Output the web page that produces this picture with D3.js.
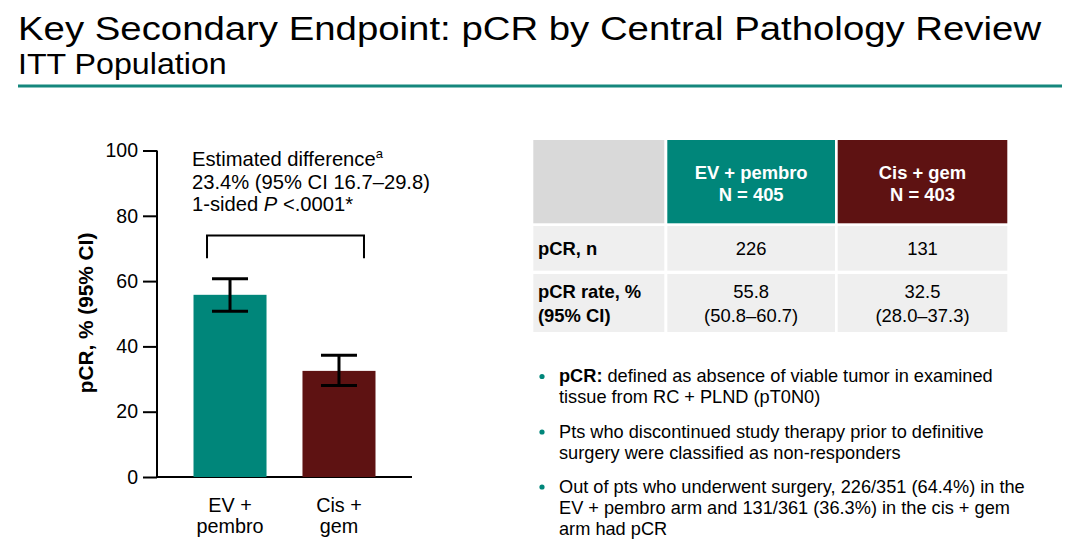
<!DOCTYPE html>
<html><head><meta charset="utf-8">
<script src="https://cdn.jsdelivr.net/npm/d3@7"></script>
<style>
html,body{margin:0;padding:0;background:#fff;}
svg{display:block;font-family:"Liberation Sans",Arial,Helvetica,sans-serif;}
</style></head>
<body><svg id="c" width="1080" height="554"></svg>
<script>
// ---- data ----
const categories = ["EV + pembro", "Cis + gem"];
const axisLabels = [["EV +", "pembro"], ["Cis +", "gem"]];
const pcrRate = [55.8, 32.5];
const ciLow = [50.8, 28.0];
const ciHigh = [60.7, 37.3];
const armN = [405, 403];
const pcrN = [226, 131];
const yTicks = [0, 20, 40, 60, 80, 100];
const barColors = ["#00867A", "#5E1212"];
const annotationLines = ["Estimated difference", "23.4% (95% CI 16.7\u201329.8)", "1-sided "];
const bullets = [
  [[{t:"pCR:", b:true}, {t:" defined as absence of viable tumor in examined"}], [{t:"tissue from RC + PLND (pT0N0)"}]],
  [[{t:"Pts who discontinued study therapy prior to definitive"}], [{t:"surgery were classified as non-responders"}]],
  [[{t:"Out of pts who underwent surgery, 226/351 (64.4%) in the"}], [{t:"EV + pembro arm and 131/361 (36.3%) in the cis + gem"}], [{t:"arm had pCR"}]]
];

const svg = d3.select("#c");
const teal = "#00867A";

// ---- title ----
svg.append("text").attr("transform","translate(18,40) scale(1.128,1)")
  .attr("font-size",34).attr("fill","#000").text("Key Secondary Endpoint: pCR by Central Pathology Review");
svg.append("text").attr("transform","translate(18,74) scale(1.11,1)")
  .attr("font-size",29).attr("fill","#000").text("ITT Population");
svg.append("rect").attr("x",18).attr("y",84.5).attr("width",1044).attr("height",3).attr("fill","#15877d");

// ---- chart ----
const y = d3.scaleLinear().domain([0,100]).range([477,150.5]);
const x = d3.scaleBand().domain(categories).range([157,412]).paddingInner(0.33).paddingOuter(0.335);

const yAxis = svg.append("g").attr("transform","translate(157,0)")
  .call(d3.axisLeft(y).tickValues(yTicks).tickSize(14).tickPadding(5));
yAxis.select(".domain").attr("stroke","#000").attr("stroke-width",2).attr("d","M0,"+y(100)+"V"+y(0));
yAxis.selectAll(".tick line").attr("stroke","#000").attr("stroke-width",2);
yAxis.selectAll(".tick text").attr("font-size",19.5).attr("fill","#000").attr("font-family","Liberation Sans, Arial, sans-serif");

const xAxis = svg.append("g").attr("transform","translate(0,"+y(0)+")")
  .call(d3.axisBottom(x).tickSize(0).tickFormat(""));
xAxis.select(".domain").attr("stroke","#000").attr("stroke-width",2).attr("d","M157,0H412");

categories.forEach((c,i)=>{
  const t = svg.append("text").attr("text-anchor","middle").attr("font-size",19.8).attr("fill","#000");
  axisLabels[i].forEach((l,j)=>{
    t.append("tspan").attr("x",x(c)+x.bandwidth()/2).attr("y",512+j*21).text(l);
  });
});

svg.append("text").attr("transform","translate(93,313) rotate(-90)").attr("text-anchor","middle")
  .attr("font-size",20.8).attr("font-weight","bold").attr("fill","#000").text("pCR, % (95% CI)");

svg.selectAll("rect.bar").data(categories).enter().append("rect").attr("class","bar")
  .attr("x",d=>x(d)).attr("width",x.bandwidth())
  .attr("y",(d,i)=>y(pcrRate[i])).attr("height",(d,i)=>y(0)-y(pcrRate[i]))
  .attr("fill",(d,i)=>barColors[i]);

const capW = 36;
categories.forEach((c,i)=>{
  const cx = x(c)+x.bandwidth()/2;
  const g = svg.append("g").attr("stroke","#000").attr("stroke-width",3);
  g.append("line").attr("x1",cx).attr("x2",cx).attr("y1",y(ciLow[i])).attr("y2",y(ciHigh[i]));
  g.append("line").attr("x1",cx-capW/2).attr("x2",cx+capW/2).attr("y1",y(ciLow[i])).attr("y2",y(ciLow[i]));
  g.append("line").attr("x1",cx-capW/2).attr("x2",cx+capW/2).attr("y1",y(ciHigh[i])).attr("y2",y(ciHigh[i]));
});

// bracket
const c1 = x(categories[0])+x.bandwidth()/2, c2 = x(categories[1])+x.bandwidth()/2;
svg.append("path").attr("fill","none").attr("stroke","#000").attr("stroke-width",2)
  .attr("d",`M${c1-23},${y(67)}V${y(74)}H${c2+25}V${y(67)}`);

// annotation
const ax = 192;
const aFs = 20.2;
const a1 = svg.append("text").attr("x",ax).attr("y",166).attr("font-size",aFs).attr("fill","#000");
a1.append("tspan").text(annotationLines[0]);
a1.append("tspan").attr("font-size",13).attr("dy",-8).text("a");
svg.append("text").attr("x",ax).attr("y",188.5).attr("font-size",aFs).attr("fill","#000").text(annotationLines[1]);
const a3 = svg.append("text").attr("x",ax).attr("y",211).attr("font-size",aFs).attr("fill","#000");
a3.append("tspan").text(annotationLines[2]);
a3.append("tspan").attr("font-style","italic").text("P");
a3.append("tspan").text(" <.0001*");

// ---- table ----
const cols = [[533.3,664.3],[667.3,835],[837.7,1007.3]];
const rows = [[140,223.3],[226,270.7],[274,332]];
const cellFill = (r,c)=> r===0 ? (c===0 ? "#d9d9d9" : barColors[c-1]) : "#efefef";
rows.forEach((r,ri)=>cols.forEach((c,ci)=>{
  svg.append("rect").attr("x",c[0]).attr("y",r[0]).attr("width",c[1]-c[0]).attr("height",r[1]-r[0]).attr("fill",cellFill(ri,ci));
}));
categories.forEach((cat,i)=>{
  const cx = (cols[i+1][0]+cols[i+1][1])/2;
  const t = svg.append("text").attr("text-anchor","middle").attr("font-size",18.4).attr("font-weight","bold").attr("fill","#fff");
  t.append("tspan").attr("x",cx).attr("y",179).text(cat);
  t.append("tspan").attr("x",cx).attr("y",201).text("N = "+armN[i]);
  svg.append("text").attr("x",cx).attr("y",255).attr("text-anchor","middle").attr("font-size",18.4).attr("fill","#000").text(pcrN[i]);
  const v = svg.append("text").attr("text-anchor","middle").attr("font-size",18.4).attr("fill","#000");
  v.append("tspan").attr("x",cx).attr("y",298).text(pcrRate[i].toFixed(1));
  v.append("tspan").attr("x",cx).attr("y",322).text("("+ciLow[i].toFixed(1)+"\u2013"+ciHigh[i].toFixed(1)+")");
});
svg.append("text").attr("x",538).attr("y",255).attr("font-size",18.4).attr("font-weight","bold").attr("fill","#000").text("pCR, n");
const rl = svg.append("text").attr("font-size",18.4).attr("font-weight","bold").attr("fill","#000");
rl.append("tspan").attr("x",538).attr("y",298).text("pCR rate, %");
rl.append("tspan").attr("x",538).attr("y",322).text("(95% CI)");

// ---- bullets ----
const bStarts = [382, 437.5, 492.5];
bullets.forEach((b,bi)=>{
  svg.append("circle").attr("cx",542).attr("cy",bStarts[bi]-5.5).attr("r",2.6).attr("fill",teal);
  b.forEach((line,li)=>{
    const t = svg.append("text").attr("x",559).attr("y",bStarts[bi]+li*21.3).attr("font-size",18.2).attr("fill","#000");
    line.forEach(s=>t.append("tspan").attr("font-weight",s.b?"bold":null).text(s.t));
  });
});
</script></body></html>
